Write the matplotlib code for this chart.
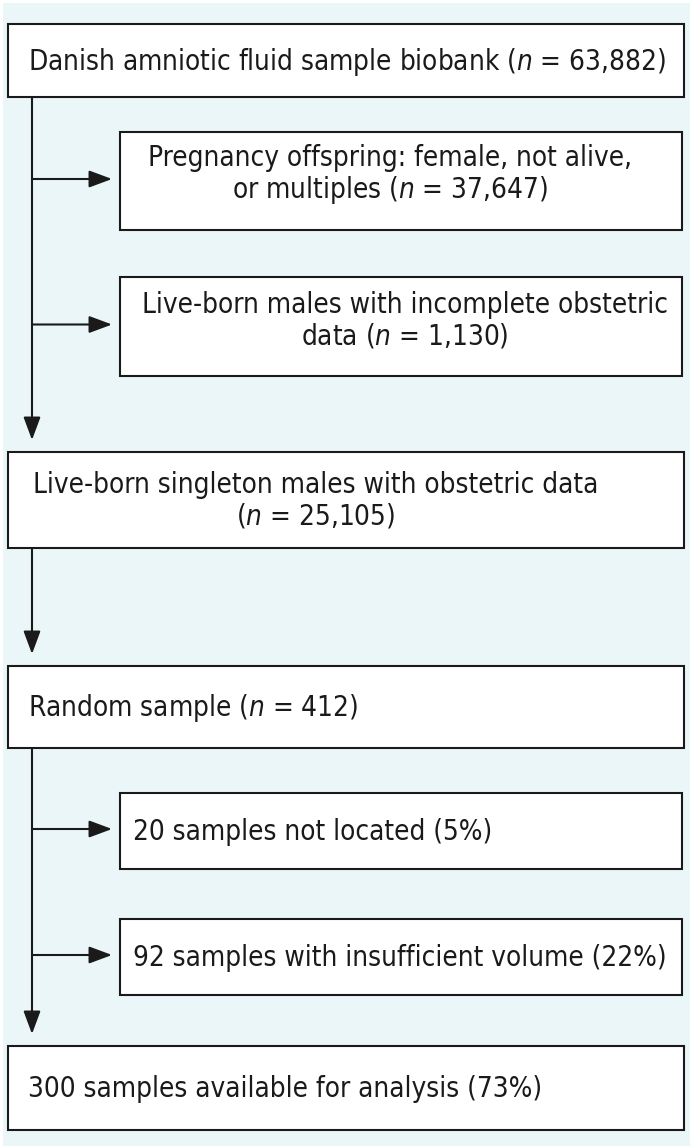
import matplotlib
matplotlib.use("Agg")
import matplotlib.pyplot as plt
from matplotlib.patches import Rectangle

plt.rcParams['font.family'] = ['DejaVu Sans']
plt.rcParams['font.stretch'] = 'condensed'
plt.rcParams['mathtext.fontset'] = 'custom'
plt.rcParams['mathtext.rm'] = 'DejaVu Sans:stretch=condensed'
plt.rcParams['mathtext.it'] = 'DejaVu Sans:style=oblique:stretch=condensed'

# main flow boxes (top to bottom)
main_labels = [
    "Danish amniotic fluid sample biobank ($n$ = 63,882)",
    "Live-born singleton males with obstetric data\n($n$ = 25,105)",
    "Random sample ($n$ = 412)",
    "300 samples available for analysis (73%)",
]
# exclusion boxes, grouped under the main box they branch from
side_labels = [
    ["Pregnancy offspring: female, not alive,\nor multiples ($n$ = 37,647)",
     "Live-born males with incomplete obstetric\ndata ($n$ = 1,130)"],
    [],
    ["20 samples not located (5%)",
     "92 samples with insufficient volume (22%)"],
]

W, H = 694, 1146
fig = plt.figure(figsize=(W / 100, H / 100), dpi=100)
ax = fig.add_axes([0, 0, 1, 1])
ax.set_xlim(0, W)
ax.set_ylim(H, 0)
ax.axis('off')

bg = '#eaf6f8'
ink = '#1a1a1a'
ax.add_patch(Rectangle((3, 3), 687, H, facecolor=bg, edgecolor='none'))

# layout (pixels)
main_y = [(24, 97), (452, 548), (666, 748), (1046, 1130)]
side_y = [[(132, 230), (277, 376)], [], [(793, 869), (919, 995)]]
mx0, mx1 = 8, 684
sx0, sx1 = 120, 682
spine_x = 32
fs = 20


def box(x0, y0, x1, y1):
    ax.add_patch(Rectangle((x0, y0), x1 - x0, y1 - y0, facecolor='white',
                           edgecolor=ink, lw=1.5, zorder=2))


def arrow(x0, y0, x1, y1):
    ax.annotate('', xy=(x1, y1), xytext=(x0, y0),
                arrowprops=dict(arrowstyle='-|>,head_length=1.4,head_width=0.52',
                                color=ink, lw=1.5, shrinkA=0, shrinkB=0),
                zorder=3)


for i, lab in enumerate(main_labels):
    y0, y1 = main_y[i]
    box(mx0, y0, mx1, y1)
    if "\n" in lab:
        ax.text(316, (y0 + y1) / 2 + 1, lab, ha='center', va='center',
                multialignment='center', fontsize=fs, color=ink,
                linespacing=1.12, zorder=4)
    else:
        ax.text(28, (y0 + y1) / 2 + 1, lab, ha='left', va='center',
                fontsize=fs, color=ink, zorder=4)

for i, group in enumerate(side_labels):
    top = main_y[i][1]
    bottom = main_y[i + 1][0]
    ax.plot([spine_x, spine_x], [top, bottom - 30], color=ink, lw=1.5,
            solid_capstyle='butt', zorder=1)
    arrow(spine_x, bottom - 31, spine_x, bottom - 12)
    for j, lab in enumerate(group):
        y0, y1 = side_y[i][j]
        box(sx0, y0, sx1, y1)
        ym = (y0 + y1) / 2
        arrow(spine_x, ym - 2, sx0 - 8, ym - 2)
        if "\n" in lab:
            cx = 390 if j == 0 else 405
            ax.text(cx, ym - 6, lab, ha='center', va='center',
                    multialignment='center', fontsize=fs, color=ink,
                    linespacing=1.12, zorder=4)
        else:
            ax.text(133, ym + 1, lab, ha='left', va='center',
                    fontsize=fs, color=ink, zorder=4)

fig.savefig('out.png', dpi=100, facecolor='white')
